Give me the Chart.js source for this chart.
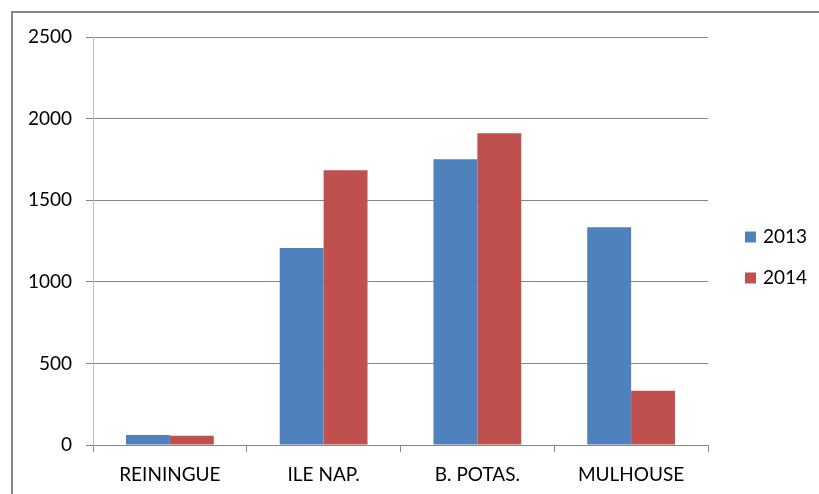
<!DOCTYPE html>
<html>
<head>
<meta charset="utf-8">
<script src="https://cdn.jsdelivr.net/npm/chart.js@4/dist/chart.umd.min.js"></script>
<style>
  html, body { margin: 0; padding: 0; background: #fff; }
  #wrap { width: 819px; height: 494px; }
</style>
</head>
<body>
<div id="wrap"><canvas id="c" width="819" height="494"></canvas></div>
<script>
// Sites and yearly totals
const categories = ['REININGUE', 'ILE NAP.', 'B. POTAS.', 'MULHOUSE'];
const values2013 = [62, 1207, 1751, 1335];
const values2014 = [57, 1684, 1910, 333];
const seriesLabels = ['2013', '2014'];
const yTicks = [0, 500, 1000, 1500, 2000, 2500];

const BLUE = '#4F81BD';
const RED = '#C0504D';
const GRID = '#868686';
const FONT = 'Lato, "Open Sans", sans-serif';

// Outer frame of the chart object (left and top edges)
const framePlugin = {
  id: 'frame',
  beforeDraw(chart) {
    const ctx = chart.ctx;
    ctx.save();
    ctx.fillStyle = '#fff';
    ctx.fillRect(0, 0, chart.width, chart.height);
    ctx.strokeStyle = GRID;
    ctx.lineWidth = 2;
    ctx.beginPath();
    ctx.moveTo(12, chart.height);
    ctx.lineTo(12, 12);
    ctx.lineTo(chart.width, 12);
    ctx.stroke();
    ctx.restore();
  }
};

// Legend on the right, drawn from the dataset labels and colours
const sideLegend = {
  id: 'sideLegend',
  afterDraw(chart) {
    const ctx = chart.ctx;
    ctx.save();
    ctx.font = '19px ' + FONT;
    ctx.textBaseline = 'middle';
    ctx.textAlign = 'left';
    chart.data.datasets.forEach((ds, i) => {
      const cy = 237 + i * 41;
      ctx.fillStyle = ds.backgroundColor;
      ctx.fillRect(745, cy - 5.5, 11, 11);
      ctx.fillStyle = '#000';
      ctx.fillText(ds.label, 763, cy);
    });
    ctx.restore();
  }
};

new Chart(document.getElementById('c'), {
  type: 'bar',
  data: {
    labels: categories,
    datasets: [
      { label: seriesLabels[0], data: values2013, backgroundColor: BLUE },
      { label: seriesLabels[1], data: values2014, backgroundColor: RED }
    ]
  },
  options: {
    responsive: false,
    animation: false,
    devicePixelRatio: 1,
    layout: { padding: { top: 37, right: 111, bottom: 0, left: 0 } },
    datasets: { bar: { categoryPercentage: 0.571, barPercentage: 1.0 } },
    plugins: {
      legend: { display: false },
      tooltip: { enabled: false }
    },
    scales: {
      x: {
        grid: { offset: true, drawOnChartArea: false, drawTicks: true, tickLength: 7, color: GRID },
        border: { color: GRID, width: 1 },
        ticks: { color: '#000', font: { family: FONT, size: 19 }, padding: 11, maxRotation: 0 },
        afterFit(scale) { scale.height = 49; }
      },
      y: {
        min: 0,
        max: 2500,
        afterBuildTicks(scale) { scale.ticks = yTicks.map(v => ({ value: v })); },
        grid: { color: GRID, tickLength: 7, lineWidth: 1 },
        border: { color: '#BFBFBF', width: 1 },
        ticks: {
          color: '#000',
          font: { family: FONT, size: 19 },
          padding: 14,
          callback: (v) => String(v)
        },
        afterFit(scale) { scale.width = 93; }
      }
    }
  },
  plugins: [framePlugin, sideLegend]
});
</script>
</body>
</html>
